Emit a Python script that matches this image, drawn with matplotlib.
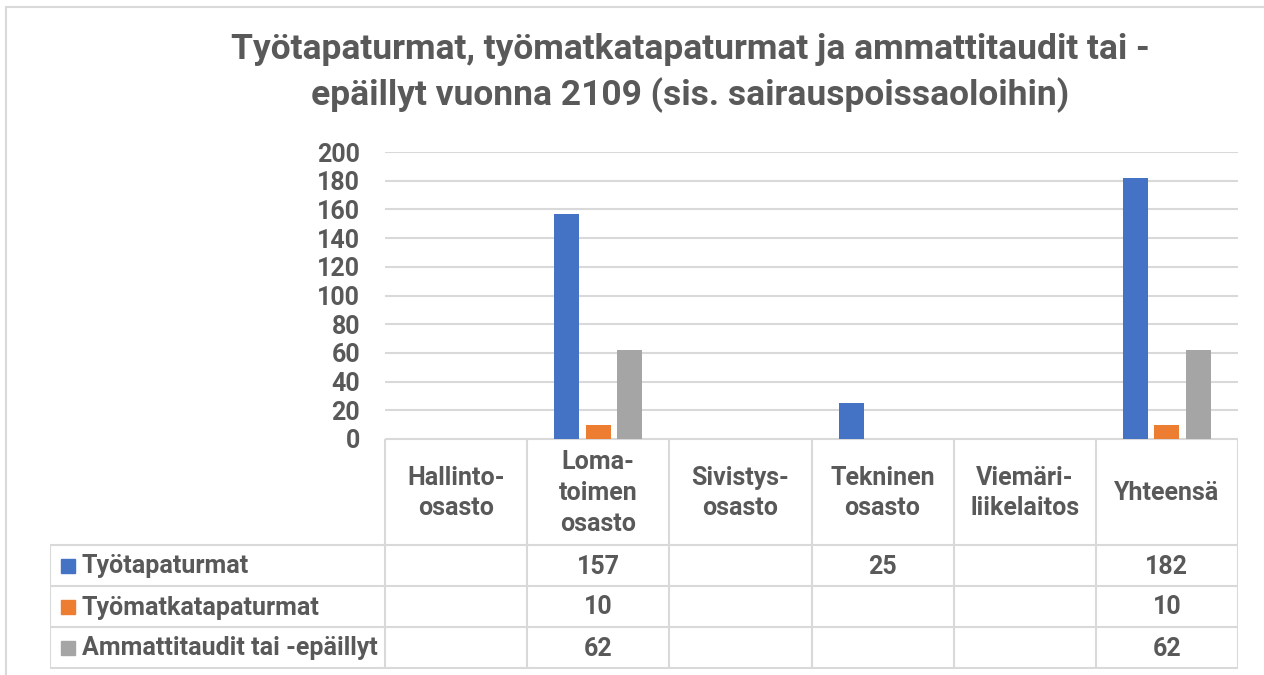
import numpy as np
import matplotlib
matplotlib.use('Agg')
import matplotlib.pyplot as plt
from matplotlib.lines import Line2D
from matplotlib.patches import Rectangle

plt.rcParams['font.family'] = ['Roboto', 'DejaVu Sans']

categories = ['Hallinto-\nosasto', 'Loma-\ntoimen\nosasto', 'Sivistys-\nosasto',
              'Tekninen\nosasto', 'Viemäri-\nliikelaitos', 'Yhteensä']
series = ['Työtapaturmat', 'Työmatkatapaturmat', 'Ammattitaudit tai -epäillyt']
tyotapaturmat = [None, 157, None, 25, None, 182]
tyomatka = [None, 10, None, None, None, 10]
ammattitaudit = [None, 62, None, None, None, 62]
values = [tyotapaturmat, tyomatka, ammattitaudit]
colors = ['#4472C4', '#ED7D31', '#A5A5A5']
title = 'Työtapaturmat, työmatkatapaturmat ja ammattitaudit tai -\nepäillyt vuonna 2109 (sis. sairauspoissaoloihin)'

txt = '#595959'
grid = '#D9D9D9'
font_size = 18

W, H = 1264, 675
fig = plt.figure(figsize=(W / 100, H / 100), dpi=100)

def px(x0, y0, x1, y1):
    # pixel box (top-left origin) -> figure fraction
    return [x0 / W, 1 - y1 / H, (x1 - x0) / W, (y1 - y0) / H]

# outer chart border
fig.patches.append(Rectangle((6 / W, -0.1), 1.2, 1 - 7 / H + 0.1, transform=fig.transFigure,
                             fill=False, edgecolor='#D9D9D9', lw=1.5))

fig.text(690 / W, 1 - 73 / H, title, ha='center', va='center', fontsize=25.5,
         fontweight='bold', color=txt, linespacing=1.4)

# bar area
ax = fig.add_axes(px(385, 152, 1238, 439))
n = len(categories)
x = np.arange(n) + 0.5
width = 25 / 142.2
step = 31.5 / 142.2
for i, (vals, c) in enumerate(zip(values, colors)):
    v = [0 if a is None else a for a in vals]
    ax.bar(x + (i - 1) * step, v, width, color=c, zorder=3)
ax.set_xlim(0, n)
ax.set_ylim(0, 200)
ax.set_yticks(np.arange(0, 201, 20))
ax.set_xticks([])
for s in ax.spines.values():
    s.set_visible(False)
ax.tick_params(axis='y', length=0, pad=18, labelsize=font_size, labelcolor=txt)
for lab in ax.get_yticklabels():
    lab.set_fontweight('bold')
ax.grid(axis='y', color=grid, lw=1.5, zorder=0)

# data table
tx0 = 50
unit = (1238 - 385) / n
left = -(385 - tx0) / unit
tab = fig.add_axes(px(tx0, 439, 1238, 669))
tab.set_xlim(left, n)
tab.set_ylim(669, 439)
tab.axis('off')
rows_y = [439, 545, 586, 627, 668]
kw = dict(color=grid, lw=1.5, solid_capstyle='butt')
tab.add_line(Line2D([0, n], [rows_y[0]] * 2, **kw))
for y in rows_y[1:]:
    tab.add_line(Line2D([left, n], [y, y], **kw))
for k in range(n + 1):
    tab.add_line(Line2D([k, k], [rows_y[0], rows_y[-1]], **kw))
tab.add_line(Line2D([left, left], [rows_y[1], rows_y[-1]], **kw))

for k, cat in enumerate(categories):
    tab.text(k + 0.5, (rows_y[0] + rows_y[1]) / 2 + 1, cat, ha='center', va='center',
             fontsize=font_size, fontweight='bold', color=txt, linespacing=1.35)

for r, (name, vals, c) in enumerate(zip(series, values, colors)):
    yc = (rows_y[r + 1] + rows_y[r + 2]) / 2
    tab.add_patch(Rectangle((left + 11 / unit, yc - 7), 14 / unit, 14, color=c, clip_on=False))
    tab.text(left + 32 / unit, yc + 1, name, ha='left', va='center', fontsize=font_size,
             fontweight='bold', color=txt)
    for k, v in enumerate(vals):
        if v is not None:
            tab.text(k + 0.5, yc + 1, str(v), ha='center', va='center', fontsize=font_size,
                     fontweight='bold', color=txt)

plt.savefig('out.png', dpi=100)
